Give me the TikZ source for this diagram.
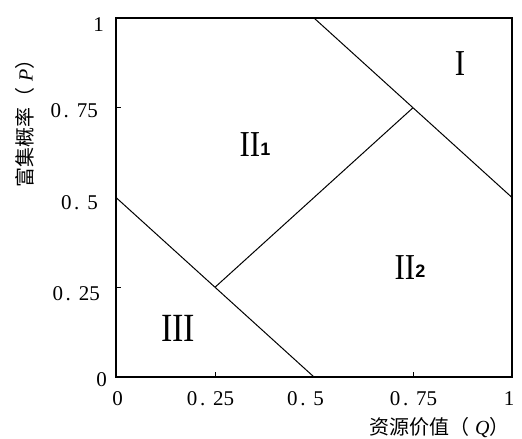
\documentclass[tikz,border=0pt]{standalone}
\usepackage{fontspec}
\setmainfont{Liberation Serif}
\newfontfamily\cjk{Noto Sans CJK SC}
\newfontfamily\subf{Liberation Sans}
\newcommand{\cw}[1]{\makebox[0.5em][c]{#1}}
\newcommand{\cwd}{\makebox[0.5em][c]{.}\hspace{0.25em}}
\newcommand{\rmn}[1]{\scalebox{0.85}[1]{#1}}
\newcommand{\sbn}[1]{\raisebox{1.5pt}{\subf\bfseries\fontsize{18}{18}\selectfont #1}}
\begin{document}
\begin{tikzpicture}[x=1pt,y=-1pt,
  frame/.style={line width=1.2pt},
  divline/.style={line width=1pt},
  tickmark/.style={line width=1pt},
  ticklab/.style={font=\fontsize{21}{21}\selectfont, inner sep=0pt},
  region/.style={font=\fontsize{36.5}{36.5}\selectfont, inner sep=0pt},
  axlab/.style={font=\fontsize{20}{20}\selectfont\cjk, inner sep=0pt}]
\useasboundingbox (0,0) rectangle (522,439);
% corners
\coordinate (O) at (116,377);
\coordinate (TR) at (512,18);
\draw[frame] (O) rectangle (TR);
% key points (Q,P)
\coordinate (q50p100) at (314,18);
\coordinate (q100p50) at (512,197.5);
\coordinate (q0p50) at (116,197.5);
\coordinate (q50p0) at (314,377);
\coordinate (q25p25) at (215,287.25);
\coordinate (q75p75) at (413,107.75);
\draw[divline] (q50p100) -- (q100p50);
\draw[divline] (q0p50) -- (q50p0);
\draw[divline] (q25p25) -- (q75p75);
% ticks
\coordinate (ly25) at (116,287.25);
\coordinate (ly75) at (116,107.75);
\coordinate (bx25) at (215,377);
\coordinate (bx75) at (413,377);
\coordinate (ly25e) at (121,287.25);
\coordinate (ly75e) at (121,107.75);
\coordinate (bx25e) at (215,372);
\coordinate (bx75e) at (413,372);
\draw[tickmark] (ly25) -- (ly25e);
\draw[tickmark] (ly75) -- (ly75e);
\draw[tickmark] (bx25) -- (bx25e);
\draw[tickmark] (bx75) -- (bx75e);
% left labels
\node[ticklab, anchor=east] (l1) at (104,25) {\cw1};
\node[ticklab, anchor=east] (l75) at (98,111) {\cw0\cwd\cw7\cw5};
\node[ticklab, anchor=east] (l50) at (98,202.5) {\cw0\cwd\cw5};
\node[ticklab, anchor=east] (l25) at (100,294) {\cw0\cwd\cw2\cw5};
\node[ticklab, anchor=east] (l0) at (107,380) {\cw0};
% bottom labels
\node[ticklab] (b0) at (117.5,399) {\cw0};
\node[ticklab] (b25) at (210.5,399) {\cw0\cwd\cw2\cw5};
\node[ticklab] (b50) at (305.5,399) {\cw0\cwd\cw5};
\node[ticklab] (b75) at (413.5,399) {\cw0\cwd\cw7\cw5};
\node[ticklab] (b1) at (509,399) {\cw1};
% axis labels
\node[axlab, rotate=90, anchor=west] (ylab) at (25,188) {富集概率（\hspace{0.3em}{\rmfamily\itshape P}）};
\node[axlab, anchor=west] (xlab) at (369,428) {资源价值（\hspace{0.3em}{\rmfamily\itshape Q}）};
% region labels
\node[region] (rI) at (460,64) {\rmn{I}};
\node[region] (rII1) at (255,145) {\rmn{II}\sbn{1}};
\node[region] (rII2) at (410,267.5) {\rmn{II}\sbn{2}};
\node[region, font=\fontsize{40}{40}\selectfont] (rIII) at (178,328) {\rmn{III}};
\end{tikzpicture}
\end{document}
